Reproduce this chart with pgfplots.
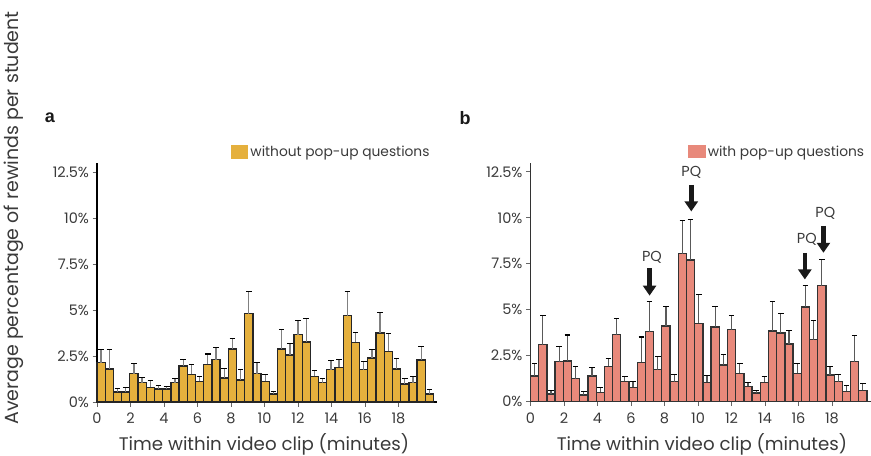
\documentclass[border=0pt]{standalone}
\usepackage{fontspec}
\setmainfont{Poppins}
\newfontfamily\boldfont{Liberation Sans}
\usepackage{pgfplots}
\pgfplotsset{compat=1.18}
\usepackage{pgfplotstable}
\usetikzlibrary{arrows.meta}
\definecolor{gold}{HTML}{E5B03D}
\definecolor{salmon}{HTML}{E8897B}
\definecolor{txt}{HTML}{3A3A3A}

% bin, mean (%), upper error (%)
\pgfplotstableread{
bin y e
1 2.14 0.74
2 1.80 1.04
3 0.54 0.21
4 0.54 0.23
5 1.54 0.53
6 1.05 0.27
7 0.80 0.36
8 0.70 0.19
9 0.70 0.16
10 1.05 0.24
11 1.95 0.37
12 1.50 0.52
13 1.12 0.27
14 2.05 0.56
15 2.30 0.68
16 1.30 0.52
17 2.89 0.54
18 1.20 0.57
19 4.80 1.20
20 1.54 0.59
21 1.12 0.36
22 0.43 0.14
23 2.89 1.07
24 2.55 0.61
25 3.66 0.79
26 3.27 1.28
27 1.39 0.32
28 1.05 0.24
29 1.75 0.52
30 1.89 0.43
31 4.70 1.30
32 3.25 0.55
33 1.75 0.45
34 2.39 0.49
35 3.75 1.13
36 2.75 1.00
37 1.80 0.56
38 0.98 0.31
39 1.05 0.33
40 2.29 0.71
41 0.43 0.27
}\dataA

\pgfplotstableread{
bin y e
1 1.39 0.67
2 3.10 1.57
3 0.42 0.18
4 2.17 0.84
5 2.21 1.42
6 1.26 0.66
7 0.36 0.19
8 1.39 0.47
9 0.51 0.27
10 1.92 0.45
11 3.65 0.86
12 1.11 0.28
13 0.78 0.31
14 2.14 1.38
15 3.81 1.63
16 1.75 0.71
17 4.11 1.09
18 1.09 0.41
19 8.05 1.82
20 7.70 2.23
21 4.27 1.55
22 1.06 0.36
23 4.07 1.13
24 1.99 0.60
25 3.91 0.80
26 1.55 0.55
27 0.84 0.22
28 0.47 0.13
29 1.06 0.31
30 3.85 1.62
31 3.74 1.04
32 3.14 0.75
33 1.55 0.55
34 5.15 1.15
35 3.38 1.05
36 6.31 1.43
37 1.46 0.46
38 1.09 0.41
39 0.57 0.29
40 2.17 1.41
41 0.62 0.38
}\dataB

\pgfplotsset{
  panel/.style={
    scale only axis, width=340bp, height=239bp,
    xmin=0, xmax=20.3, ymin=0, ymax=13,
    axis x line*=bottom, axis y line*=left,
    xtick={0,2,...,18},
    ytick={0,2.5,5,7.5,10,12.5},
    yticklabels={0\%,2.5\%,5\%,7.5\%,10\%,12.5\%},
    tick align=outside, major tick length=4.5bp,
    tick style={black!60, line width=0.8bp},
    ticklabel style={font=\fontsize{14.5bp}{16bp}\selectfont, text=txt},
    xticklabel style={yshift=-3bp},
    /pgf/number format/assume math mode=true,
    clip=false,
    legend style={draw=none, fill=none, inner sep=0pt, anchor=west,
      font=\fontsize{13.8bp}{16bp}\selectfont, text=txt},
    legend cell align=left,
  },
}

\begin{document}
\begin{tikzpicture}
\useasboundingbox (0,0) rectangle (871bp,456bp);

\begin{axis}[panel, at={(97bp,54bp)}, anchor=south west,
    axis line style={black, line width=1.4bp},
    legend style={at={(0.394,1.046)}}]
\addplot[ybar, bar width=0.49, bar shift=0pt, fill=gold, draw=black!85, line width=1.3bp,
    legend image code/.code={\fill[gold] (0bp,-6bp) rectangle (16bp,6bp);},
    error bars/.cd, y dir=plus, y explicit,
    error bar style={black!50, line width=1.3bp},
    error mark options={black, line width=1.1bp, mark size=2.8bp, rotate=90}]
  table[x expr=(\thisrow{bin}-0.5)*0.49, y=y, y error=e]{\dataA};
\addlegendentry{without pop-up questions}
\end{axis}

\begin{axis}[panel, at={(530.5bp,54.3bp)}, anchor=south west,
    axis line style={black!80, line width=1.4bp},
    legend style={at={(0.464,1.046)}}]
\addplot[ybar, bar width=0.49, bar shift=0pt, fill=salmon, draw=black!80, line width=1.3bp,
    legend image code/.code={\fill[salmon] (0bp,-6bp) rectangle (16bp,6bp);},
    error bars/.cd, y dir=plus, y explicit,
    error bar style={black!65, line width=1.2bp},
    error mark options={black, line width=1.1bp, mark size=2.8bp, rotate=90}]
  table[x expr=(\thisrow{bin}-0.5)*0.49, y=y, y error=e]{\dataB};
\addlegendentry{with pop-up questions}
\begin{scope}[line width=4.5bp, black!90, -{Triangle[width=13bp,length=10bp]}]
  \draw (axis cs:7.11,7.25) -- (axis cs:7.11,5.77);
  \draw (axis cs:9.60,11.8) -- (axis cs:9.60,10.35);
  \draw (axis cs:16.38,8.1) -- (axis cs:16.38,6.65);
  \draw (axis cs:17.49,9.57) -- (axis cs:17.49,8.1);
\end{scope}
\begin{scope}[every node/.style={font=\fontsize{14.5bp}{16bp}\selectfont, text=txt}]
  \node at (axis cs:7.25,7.85) {PQ};
  \node at (axis cs:9.6,12.45) {PQ};
  \node at (axis cs:16.5,8.85) {PQ};
  \node at (axis cs:17.6,10.26) {PQ};
\end{scope}
\end{axis}

\node[rotate=90, font=\fontsize{19bp}{22bp}\selectfont, text=txt] at (14bp,238bp)
  {Average percentage of rewinds per student};
\node[anchor=base, font=\fontsize{18.2bp}{22bp}\selectfont, text=txt] at (264bp,6bp)
  {Time within video clip (minutes)};
\node[anchor=base, font=\fontsize{18.2bp}{22bp}\selectfont, text=txt] at (702bp,6bp)
  {Time within video clip (minutes)};
\node[font=\boldfont\bfseries\fontsize{18bp}{20bp}\selectfont, text=black!90] at (50bp,338bp) {a};
\node[font=\boldfont\bfseries\fontsize{18bp}{20bp}\selectfont, text=black!90] at (465bp,338bp) {b};
\end{tikzpicture}
\end{document}
